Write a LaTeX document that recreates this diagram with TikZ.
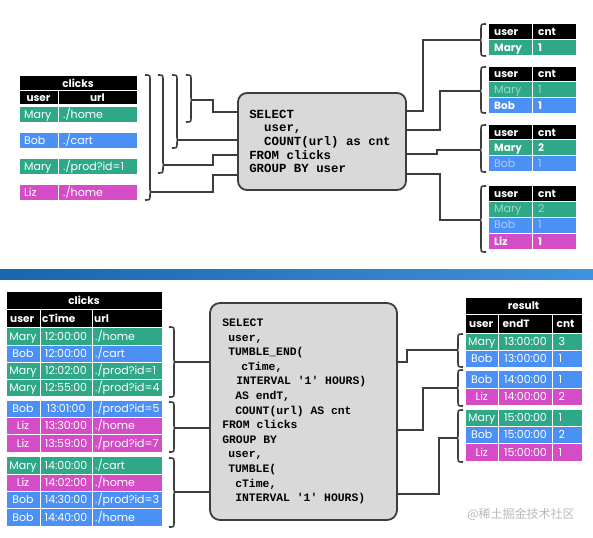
\documentclass[tikz,border=0pt]{standalone}
\usepackage{fontspec}
\setmainfont{Poppins}
\setmonofont{Liberation Mono}
\newfontfamily\cjk{Noto Sans CJK SC}
\usetikzlibrary{calc}

\definecolor{verde}{HTML}{2FA888}
\definecolor{azul}{HTML}{4A90F5}
\definecolor{rosa}{HTML}{D54DC6}
\definecolor{gris}{HTML}{D9D9D9}
\definecolor{borde}{HTML}{3D3D3D}
\definecolor{franja}{HTML}{1F7FD6}

\tikzset{
  dato/.style={text=white, font=\fontsize{11}{12}\selectfont, inner xsep=4pt, inner ysep=0pt, text height=7.8pt, text depth=0pt},
  cab/.style={font=\fontsize{10.5}{12}\selectfont\bfseries},
  nuevo/.style={font=\fontsize{10.5}{12}\selectfont\bfseries},
  viejo/.style={text opacity=.55},
  llave/.style={draw=borde, line width=1.6pt},
  conector/.style={draw=borde, line width=1.6pt},
  consulta/.style={draw=borde, fill=gris, line width=1.8pt, rounded corners=9pt},
  sql/.style={font=\fontsize{12.4}{13.7}\selectfont\ttfamily\bfseries, align=left, inner sep=0pt},
  sqlchica/.style={font=\fontsize{11.4}{14.6}\selectfont\ttfamily\bfseries, align=left, inner sep=0pt}
}

% celda: nombre, x1, y1, x2, y2, color, estilo, texto
\newcommand{\celda}[8]{%
  \filldraw[fill=#6, draw=white, line width=1pt] (#2,#3) rectangle (#4,#5);
  \node[dato, anchor=west, #7] (#1) at (#2,{(#3+#5)/2}) {#8};}
\newcommand{\celdac}[8]{%
  \filldraw[fill=#6, draw=white, line width=1pt] (#2,#3) rectangle (#4,#5);
  \node[dato, #7] (#1) at ({(#2+#4)/2},{(#3+#5)/2}) {#8};}
% filas de las tablas
\newcommand{\filaurl}[6]{%
  \celda{#1u}{19}{#2}{58}{#3}{#4}{inner xsep=5pt}{#5}
  \celda{#1r}{58}{#2}{137}{#3}{#4}{inner xsep=5pt}{#6}}
\newcommand{\filacnt}[7]{%
  \celda{#1u}{488}{#2}{532}{#3}{#4}{inner xsep=6pt,#5}{#6}
  \celda{#1c}{532}{#2}{576}{#3}{#4}{inner xsep=6pt,#5}{#7}}
\newcommand{\filaclk}[7]{%
  \celdac{#1u}{6}{#2}{40}{#3}{#4}{}{#5}
  \celdac{#1t}{40}{#2}{92}{#3}{#4}{}{#6}
  \celda{#1r}{92}{#2}{162}{#3}{#4}{inner xsep=3pt}{#7}}
\newcommand{\filares}[7]{%
  \celdac{#1u}{465}{#2}{498.5}{#3}{#4}{}{#5}
  \celdac{#1t}{498.5}{#2}{552.5}{#3}{#4}{}{#6}
  \celda{#1c}{552.5}{#2}{582}{#3}{#4}{inner xsep=6pt}{#7}}
% llaves: nombre, x, arriba, punta, abajo
\newcommand{\llaveder}[5]{%
  \draw[llave] (#2,#3) .. controls (#2+5,#3) .. (#2+5,#3+5) -- (#2+5,#4-4)
    .. controls (#2+5,#4) .. (#2+9,#4) .. controls (#2+5,#4) .. (#2+5,#4+4)
    -- (#2+5,#5-5) .. controls (#2+5,#5) .. (#2,#5);
  \coordinate (#1) at (#2+9,#4);}
\newcommand{\llaveizq}[5]{%
  \draw[llave] (#2,#3) .. controls (#2-5,#3) .. (#2-5,#3+5) -- (#2-5,#4-4)
    .. controls (#2-5,#4) .. (#2-9,#4) .. controls (#2-5,#4) .. (#2-5,#4+4)
    -- (#2-5,#5-5) .. controls (#2-5,#5) .. (#2,#5);
  \coordinate (#1) at (#2-9,#4);}

\begin{document}
\begin{tikzpicture}[x=1pt, y=-1pt]
   \useasboundingbox (0,0) rectangle (593,537);
   \fill[white] (0,0) rectangle (593,537);
   %tabla clicks arriba
   \celdac{tcl}{19}{75.5}{137}{91}{black}{cab}{clicks}
   \celdac{tus}{19}{91}{58}{105}{black}{cab}{user}
   \celdac{tur}{58}{91}{137}{105}{black}{cab}{url}
   \filaurl{u1}{106.5}{122.5}{verde}{Mary}{./home}
   \filaurl{u2}{132.5}{148.5}{azul}{Bob}{./cart}
   \filaurl{u3}{158.5}{174.5}{verde}{Mary}{./prod?id=1}
   \filaurl{u4}{184.5}{200.5}{rosa}{Liz}{./home}
   %consulta arriba
   \node[consulta, minimum width=168pt, minimum height=97pt] (cajaA) at (322,141.5) {};
   \node[sql, anchor=west] (sqlA) at ([xshift=12pt]cajaA.west) {SELECT\\
     \phantom{xx}user,\\
     \phantom{xx}COUNT(url) as cnt\\
     FROM clicks\\
     GROUP BY user};
   %resultados arriba
   \filacnt{k1}{23.5}{40}{black}{cab}{user}{cnt}
   \filacnt{k2}{40}{56}{verde}{nuevo}{Mary}{1}
   \filacnt{k3}{66.5}{81.5}{black}{cab}{user}{cnt}
   \filacnt{k4}{81.5}{97.5}{verde}{viejo}{Mary}{1}
   \filacnt{k5}{97.5}{113.5}{azul}{nuevo}{Bob}{1}
   \filacnt{k6}{124.5}{140}{black}{cab}{user}{cnt}
   \filacnt{k7}{140}{156}{verde}{nuevo}{Mary}{2}
   \filacnt{k8}{156}{172}{azul}{viejo}{Bob}{1}
   \filacnt{k9}{185.5}{201}{black}{cab}{user}{cnt}
   \filacnt{k10}{201}{217}{verde}{viejo}{Mary}{2}
   \filacnt{k11}{217}{233}{azul}{viejo}{Bob}{1}
   \filacnt{k12}{233}{249.5}{rosa}{nuevo}{Liz}{1}
   %llaves arriba
   \llaveder{l1}{145}{75}{192}{200}
   \llaveder{l2}{158}{75}{165}{173}
   \llaveder{l3}{172}{75}{140}{148}
   \llaveder{l4}{186}{75}{100}{122}
   \llaveizq{r1}{486}{24}{40}{56}
   \llaveizq{r2}{486}{67}{91}{113}
   \llaveizq{r3}{486}{125}{150}{172}
   \llaveizq{r4}{486}{186}{220}{252}
   %lineas arriba
   \draw[conector] (l4) -| (213,112) -- (cajaA.west |- 0,112);
   \draw[conector] (l3) -- (cajaA.west |- l3);
   \draw[conector] (l2) -| (213,155) -- (cajaA.west |- 0,155);
   \draw[conector] (l1) -| (213,175) -- (cajaA.west |- 0,175);
   \draw[conector] (r1) -| (423,111) -- (cajaA.east |- 0,111);
   \draw[conector] (r2) -| (440,130) -- (cajaA.east |- 0,130);
   \draw[conector] (r3) -| (437,154) -- (cajaA.east |- 0,154);
   \draw[conector] (r4) -| (440,174) -- (cajaA.east |- 0,174);
   %franja
   \shade[left color=franja!80!black, right color=franja!85!white] (0,269) rectangle (593,279);
   %tabla clicks abajo
   \celdac{hclk}{6}{291.5}{162}{309.5}{black}{cab}{clicks}
   \celda{hu}{6}{309.5}{40}{327}{black}{cab}{user}
   \celda{ht}{40}{309.5}{92}{327}{black}{cab, inner xsep=2pt}{cTime}
   \celda{hr}{92}{309.5}{162}{327}{black}{cab, inner xsep=2pt}{url}
   \filaclk{c1}{327.5}{345}{verde}{Mary}{12:00:00}{./home}
   \filaclk{c2}{345}{362}{azul}{Bob}{12:00:00}{./cart}
   \filaclk{c3}{362}{379}{verde}{Mary}{12:02:00}{./prod?id=1}
   \filaclk{c4}{379}{396.5}{verde}{Mary}{12:55:00}{./prod?id=4}
   \filaclk{c5}{400.5}{417.5}{azul}{Bob}{13:01:00}{./prod?id=5}
   \filaclk{c6}{417.5}{434.5}{rosa}{Liz}{13:30:00}{./home}
   \filaclk{c7}{434.5}{452}{rosa}{Liz}{13:59:00}{./prod?id=7}
   \filaclk{c8}{456.5}{474}{verde}{Mary}{14:00:00}{./cart}
   \filaclk{c9}{474}{491}{rosa}{Liz}{14:02:00}{./home}
   \filaclk{c10}{491}{508.5}{azul}{Bob}{14:30:00}{./prod?id=3}
   \filaclk{c11}{508.5}{526}{azul}{Bob}{14:40:00}{./home}
   %consulta abajo
   \node[consulta, rounded corners=10pt, minimum width=187pt, minimum height=217pt] (cajaB) at (303.5,411.5) {};
   \node[sqlchica, anchor=west] (sqlB) at ([xshift=13pt]cajaB.west) {SELECT\\
     \hspace*{6pt}user,\\
     \hspace*{6pt}TUMBLE\_END(\\
     \hspace*{19pt}cTime,\\
     \hspace*{14pt}INTERVAL '1' HOURS)\\
     \hspace*{13pt}AS endT,\\
     \hspace*{13pt}COUNT(url) AS cnt\\
     FROM clicks\\
     GROUP BY\\
     \hspace*{6pt}user,\\
     \hspace*{6pt}TUMBLE(\\
     \hspace*{13pt}cTime,\\
     \hspace*{13pt}INTERVAL '1' HOURS)};
   %tabla result
   \celdac{hres}{465}{297.5}{582}{314.5}{black}{cab}{result}
   \celda{hru}{465}{314.5}{498.5}{333}{black}{cab}{user}
   \celda{hre}{498.5}{314.5}{552.5}{333}{black}{cab}{endT}
   \celda{hrc}{552.5}{314.5}{582}{333}{black}{cab}{cnt}
   \filares{e1}{333}{350}{verde}{Mary}{13:00:00}{3}
   \filares{e2}{350}{367.5}{azul}{Bob}{13:00:00}{1}
   \filares{e3}{370.5}{388}{azul}{Bob}{14:00:00}{1}
   \filares{e4}{388}{405.5}{rosa}{Liz}{14:00:00}{2}
   \filares{e5}{409.5}{426}{verde}{Mary}{15:00:00}{1}
   \filares{e6}{426}{443.5}{azul}{Bob}{15:00:00}{2}
   \filares{e7}{443.5}{461}{rosa}{Liz}{15:00:00}{1}
   %llaves abajo
   \llaveder{b1}{169}{327}{362}{397}
   \llaveder{b2}{169}{402}{428}{452}
   \llaveder{b3}{169}{458}{492}{527}
   \llaveizq{d1}{463}{334}{350}{367}
   \llaveizq{d2}{463}{370}{388}{406}
   \llaveizq{d3}{463}{410}{438}{462}
   %lineas abajo
   \draw[conector] (b1) -- (cajaB.west |- b1);
   \draw[conector] (b2) -- (cajaB.west |- b2);
   \draw[conector] (b3) -- (cajaB.west |- b3);
   \draw[conector] (d1) -| (407,362) -- (cajaB.east |- 0,362);
   \draw[conector] (d2) -| (423,430) -- (cajaB.east |- 0,430);
   \draw[conector] (d3) -| (439,494) -- (cajaB.east |- 0,494);
   %marca
   \node[text=gray!55, font=\cjk\fontsize{12}{14}\selectfont] (marca) at (521,514) {@稀土掘金技术社区};
\end{tikzpicture}
\end{document}
